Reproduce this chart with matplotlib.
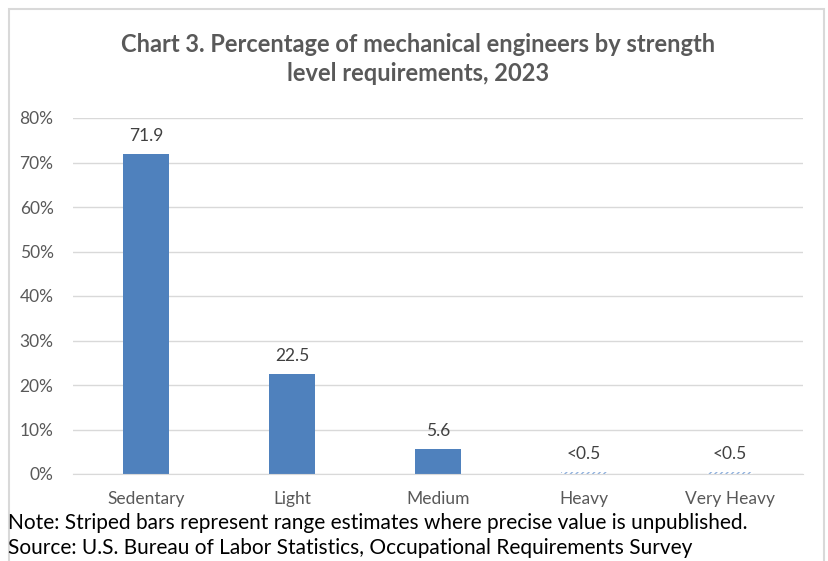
import matplotlib.pyplot as plt
from matplotlib.patches import Rectangle

# du lieu
categories = ['Sedentary', 'Light', 'Medium', 'Heavy', 'Very Heavy']
values = [71.9, 22.5, 5.6, 0.4, 0.4]
labels = ['71.9', '22.5', '5.6', '<0.5', '<0.5']
striped = [False, False, False, True, True]
yticks = [0, 10, 20, 30, 40, 50, 60, 70, 80]

plt.rcParams['font.family'] = ['Lato', 'DejaVu Sans']

fig = plt.figure(figsize=(8.29, 5.61), dpi=100)
ax = fig.add_axes([73 / 829, 1 - 474 / 561, 730 / 829, 356 / 561])

blue = '#4f81bd'
x = range(len(categories))
for i in x:
    if striped[i]:
        ax.bar(i, values[i], width=0.32, color='white', edgecolor='#8fb0dc',
               hatch='//////', linewidth=0)
    else:
        ax.bar(i, values[i], width=0.32, color=blue)
    ax.text(i, values[i] + 2.2, labels[i], ha='center', va='bottom',
            fontsize=12.5, color='#404040')

ax.set_xlim(-0.5, len(categories) - 0.5)
ax.set_ylim(0, 80)
ax.set_yticks(yticks)
ax.set_yticklabels([f'{t}%' for t in yticks], fontsize=12.5, color='#595959')
ax.set_xticks(list(x))
ax.set_xticklabels(categories, fontsize=12.5, color='#595959')
ax.tick_params(axis='y', length=0, pad=14)
ax.tick_params(axis='x', length=0, pad=12)
ax.grid(axis='y', color='#d9d9d9', linewidth=1)
ax.set_axisbelow(True)
for s in ['top', 'right', 'left']:
    ax.spines[s].set_visible(False)
ax.spines['bottom'].set_color('#d9d9d9')

# tieu de
fig.text(418 / 829, 1 - 44 / 561, 'Chart 3. Percentage of mechanical engineers by strength',
         ha='center', va='center', fontsize=17, fontweight='bold', color='#595959')
fig.text(418 / 829, 1 - 74 / 561, 'level requirements, 2023',
         ha='center', va='center', fontsize=17, fontweight='bold', color='#595959')

# ghi chu
fig.text(8 / 829, 1 - 523 / 561,
         'Note: Striped bars represent range estimates where precise value is unpublished.',
         ha='left', va='center', fontsize=15, color='black')
fig.text(8 / 829, 1 - 548 / 561,
         'Source: U.S. Bureau of Labor Statistics, Occupational Requirements Survey',
         ha='left', va='center', fontsize=15, color='black')

# khung vien
fig.patches.append(Rectangle((9 / 829, -0.1), 815 / 829, 1.1 - 9 / 561,
                             transform=fig.transFigure, fill=False,
                             edgecolor='#d9d9d9', linewidth=1.5))

fig.savefig('out.png', dpi=100)
